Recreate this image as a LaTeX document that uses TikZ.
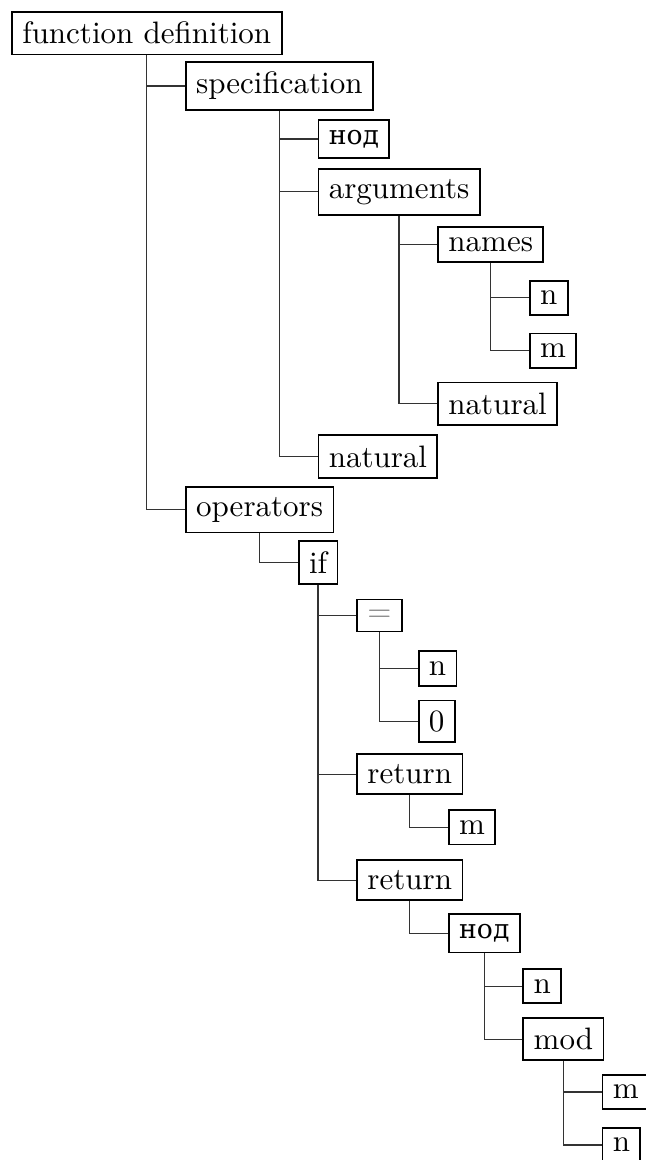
\documentclass[tikz,border=0pt]{standalone}
\usepackage{fontspec}
\usepackage{tikz}
\usetikzlibrary{positioning,calc}
\newfontfamily\rufont[Scale=0.86]{DejaVu Serif}

\tikzset{
    box/.style={draw, semithick, anchor=west},
    link/.style={black!80, line width=0.4pt}
}

\begin{document}
\begin{tikzpicture}[x=1pt, y=-17.08pt]
        \useasboundingbox (-3.55pt,10.65pt) rectangle (204.8pt,-363.5pt);
        % root
        \node[box] (fundef) at (0,0) {function definition};
        % specification
        \node[box] (spec) at ($(fundef.south |- 0,1)+(12.3pt,0)$) {specification};
        \node[box] (nodA) at ($(spec.south |- 0,2)+(12.3pt,0)$) {\rufont нод};
        \node[box] (args) at ($(spec.south |- 0,3)+(12.3pt,0)$) {arguments};
        \node[box] (names) at ($(args.south |- 0,4)+(12.3pt,0)$) {names};
        \node[box] (nameN) at ($(names.south |- 0,5)+(12.3pt,0)$) {n};
        \node[box] (nameM) at ($(names.south |- 0,6)+(12.3pt,0)$) {m};
        \node[box] (argType) at ($(args.south |- 0,7)+(12.3pt,0)$) {natural};
        \node[box] (resType) at ($(spec.south |- 0,8)+(12.3pt,0)$) {natural};
        % operators
        \node[box] (ops) at ($(fundef.south |- 0,9)+(12.3pt,0)$) {operators};
        \node[box] (ifop) at ($(ops.south |- 0,10)+(12.3pt,0)$) {if};
        \node[box, text=gray] (eq) at ($(ifop.south |- 0,11)+(12.3pt,0)$) {=};
        \node[box] (eqN) at ($(eq.south |- 0,12)+(12.3pt,0)$) {n};
        \node[box] (eqZero) at ($(eq.south |- 0,13)+(12.3pt,0)$) {0};
        \node[box] (retA) at ($(ifop.south |- 0,14)+(12.3pt,0)$) {return};
        \node[box] (retM) at ($(retA.south |- 0,15)+(12.3pt,0)$) {m};
        \node[box] (retB) at ($(ifop.south |- 0,16)+(12.3pt,0)$) {return};
        \node[box] (nodB) at ($(retB.south |- 0,17)+(12.3pt,0)$) {\rufont нод};
        \node[box] (nodN) at ($(nodB.south |- 0,18)+(12.3pt,0)$) {n};
        \node[box] (modop) at ($(nodB.south |- 0,19)+(12.3pt,0)$) {mod};
        \node[box] (modM) at ($(modop.south |- 0,20)+(12.3pt,0)$) {m};
        \node[box] (modN) at ($(modop.south |- 0,21)+(12.3pt,0)$) {n};
        % connectors
        \draw[link] (fundef.south) |- (spec.west);
        \draw[link] (fundef.south) |- (ops.west);
        \draw[link] (spec.south) |- (nodA.west);
        \draw[link] (spec.south) |- (args.west);
        \draw[link] (spec.south) |- (resType.west);
        \draw[link] (args.south) |- (names.west);
        \draw[link] (args.south) |- (argType.west);
        \draw[link] (names.south) |- (nameN.west);
        \draw[link] (names.south) |- (nameM.west);
        \draw[link] (ops.south) |- (ifop.west);
        \draw[link] (ifop.south) |- (eq.west);
        \draw[link] (ifop.south) |- (retA.west);
        \draw[link] (ifop.south) |- (retB.west);
        \draw[link] (eq.south) |- (eqN.west);
        \draw[link] (eq.south) |- (eqZero.west);
        \draw[link] (retA.south) |- (retM.west);
        \draw[link] (retB.south) |- (nodB.west);
        \draw[link] (nodB.south) |- (nodN.west);
        \draw[link] (nodB.south) |- (modop.west);
        \draw[link] (modop.south) |- (modM.west);
        \draw[link] (modop.south) |- (modN.west);
    \end{tikzpicture}
\end{document}
